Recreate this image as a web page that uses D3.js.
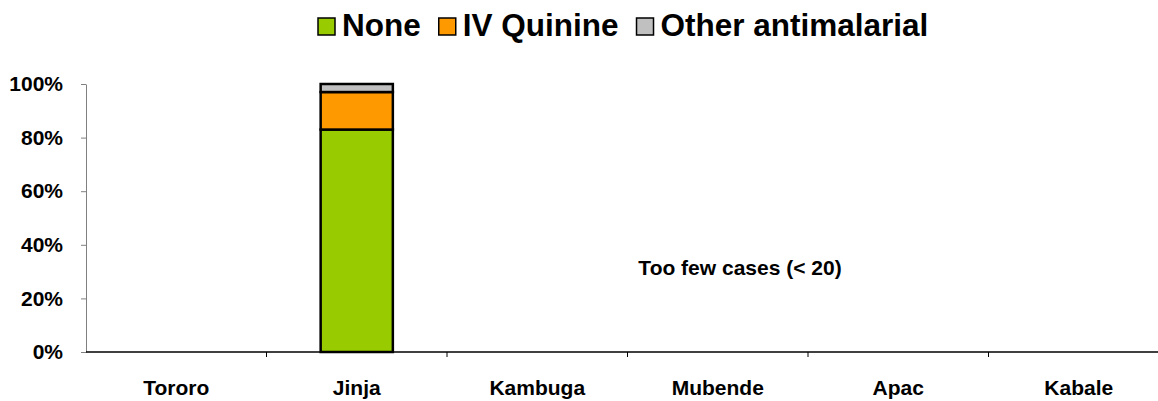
<!DOCTYPE html>
<html>
<head>
<meta charset="utf-8">
<script src="https://cdn.jsdelivr.net/npm/d3@7"></script>
<style>
  body { margin: 0; background: #fff; }
  text { font-family: "Liberation Sans", Arial, sans-serif; font-weight: bold; }
</style>
</head>
<body>
<div class="chartWrap"></div>
<script>
// data
const sites = ['Tororo', 'Jinja', 'Kambuga', 'Mubende', 'Apac', 'Kabale'];
const seriesNames = ['None', 'IV Quinine', 'Other antimalarial'];
const noneVals = [null, 83, null, null, null, null];
const quinineVals = [null, 14, null, null, null, null];
const otherVals = [null, 3, null, null, null, null];
const yTicks = [0, 20, 40, 60, 80, 100];
const note = 'Too few cases (< 20)';

const colors = ['#99CC00', '#FF9900', '#C0C0C0'];
const w = 1158, h = 401;
const margin = {top: 84, right: -11, bottom: 49, left: 86};

let svg = d3.select('.chartWrap').append('svg').attr('width', w).attr('height', h);

// scales
let x = d3.scaleBand().domain(sites).range([margin.left, w - margin.right]);
let y = d3.scaleLinear().domain([0, 100]).range([h - margin.bottom, margin.top]);

// stack the three series
let rows = sites.map((s, i) => ({site: s, 'None': noneVals[i] || 0, 'IV Quinine': quinineVals[i] || 0, 'Other antimalarial': otherVals[i] || 0, has: noneVals[i] != null}));
let stacked = d3.stack().keys(seriesNames)(rows);

let barW = x.bandwidth() * 0.4;
stacked.forEach((layer, k) => {
  svg.append('g').selectAll('rect')
    .data(layer.filter(d => d.data.has))
    .enter().append('rect')
    .attr('x', d => x(d.data.site) + (x.bandwidth() - barW) / 2)
    .attr('y', d => y(d[1]))
    .attr('width', barW)
    .attr('height', d => y(d[0]) - y(d[1]))
    .attr('fill', colors[k])
    .attr('stroke', '#000').attr('stroke-width', 2.5);
});

// y axis
let yAxis = d3.axisLeft(y).tickValues(yTicks).tickFormat(d => d + '%').tickSize(5).tickSizeOuter(0);
let gy = svg.append('g').attr('transform', 'translate(' + margin.left + ',0)').call(yAxis);
gy.select('.domain').attr('stroke', '#808080');
gy.selectAll('.tick line').attr('stroke', '#808080');
gy.selectAll('.tick text').attr('x', -23).attr('font-size', 21).attr('fill', '#000')
  .style('font-family', '"Liberation Sans", Arial, sans-serif').style('font-weight', 'bold');

// x axis with ticks between categories
let gx = svg.append('g').attr('transform', 'translate(0,' + (h - margin.bottom) + ')');
gx.append('line').attr('x1', margin.left).attr('x2', w).attr('y1', 0).attr('y2', 0).attr('stroke', '#000').attr('stroke-width', 1.5);
gx.selectAll('line.tk').data(sites.slice(1)).enter().append('line').attr('class', 'tk')
  .attr('x1', d => x(d)).attr('x2', d => x(d)).attr('y1', 0).attr('y2', 5).attr('stroke', '#000');
gx.selectAll('text').data(sites).enter().append('text')
  .attr('x', d => x(d) + x.bandwidth() / 2).attr('y', 43)
  .attr('text-anchor', 'middle').attr('font-size', 21).text(d => d);

// note
svg.append('text').attr('x', 740).attr('y', 275).attr('text-anchor', 'middle').attr('font-size', 21).text(note);

// legend
let lg = svg.append('g');
let lx = 0;
seriesNames.forEach((name, i) => {
  lg.append('rect').attr('x', lx).attr('y', 18).attr('width', 17).attr('height', 17)
    .attr('fill', colors[i]).attr('stroke', '#000').attr('stroke-width', 1.5);
  let t = lg.append('text').attr('x', lx + 24).attr('y', 36).attr('font-size', 31.5).text(name);
  lx += 24 + t.node().getComputedTextLength() + 18;
});
lg.attr('transform', 'translate(318,0)');
</script>
</body>
</html>
